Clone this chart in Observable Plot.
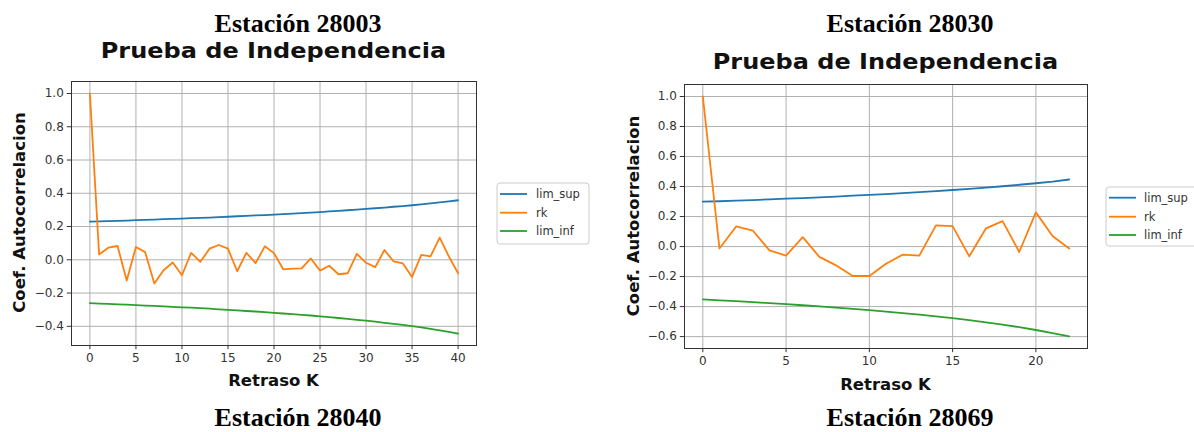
<!DOCTYPE html>
<html><head><meta charset="utf-8">
<script src="https://cdn.jsdelivr.net/npm/d3@7"></script>
<script src="https://cdn.jsdelivr.net/npm/@observablehq/plot@0.6"></script>
<style>
body{margin:0;background:#fff;}
#root{position:relative;width:1194px;height:432px;overflow:hidden;background:#fff;}
.panel{position:absolute;top:0;}
#overlay{position:absolute;left:0;top:0;}
</style></head><body><div id="root"></div>
<script>
// ---------- Data: Estación 28003 ----------
const lagsA = [0,1,2,3,4,5,6,7,8,9,10,11,12,13,14,15,16,17,18,19,20,21,22,23,24,25,26,27,28,29,30,31,32,33,34,35,36,37,38,39,40];
const rkA = [1.0,0.032,0.073,0.083,-0.125,0.077,0.046,-0.143,-0.063,-0.016,-0.093,0.042,-0.012,0.067,0.089,0.067,-0.069,0.042,-0.020,0.081,0.040,-0.057,-0.053,-0.051,0.008,-0.065,-0.036,-0.087,-0.081,0.036,-0.018,-0.044,0.059,-0.010,-0.022,-0.103,0.030,0.020,0.133,0.020,-0.081];
const supA = [0.230,0.231,0.233,0.234,0.236,0.238,0.240,0.242,0.244,0.246,0.248,0.250,0.252,0.254,0.257,0.259,0.262,0.264,0.267,0.269,0.272,0.275,0.278,0.281,0.284,0.287,0.291,0.294,0.298,0.302,0.306,0.310,0.314,0.319,0.323,0.328,0.333,0.339,0.345,0.351,0.358];
const infA = [-0.261,-0.263,-0.265,-0.268,-0.270,-0.272,-0.275,-0.277,-0.280,-0.283,-0.286,-0.288,-0.291,-0.294,-0.298,-0.301,-0.304,-0.308,-0.311,-0.315,-0.319,-0.323,-0.327,-0.331,-0.335,-0.340,-0.345,-0.350,-0.355,-0.361,-0.366,-0.372,-0.379,-0.385,-0.392,-0.399,-0.407,-0.415,-0.424,-0.433,-0.444];
const xTicksA = [0,5,10,15,20,25,30,35,40];
const yTicksA = [-0.4,-0.2,0.0,0.2,0.4,0.6,0.8,1.0];

// ---------- Data: Estación 28030 ----------
const lagsB = [0,1,2,3,4,5,6,7,8,9,10,11,12,13,14,15,16,17,18,19,20,21,22];
const rkB = [1.0,-0.013,0.134,0.107,-0.025,-0.060,0.063,-0.069,-0.125,-0.196,-0.196,-0.114,-0.054,-0.060,0.141,0.136,-0.065,0.121,0.170,-0.036,0.228,0.071,-0.013];
const supB = [0.299,0.302,0.306,0.310,0.314,0.319,0.323,0.328,0.333,0.339,0.344,0.350,0.356,0.363,0.370,0.377,0.385,0.393,0.402,0.412,0.422,0.433,0.447];
const infB = [-0.352,-0.358,-0.364,-0.370,-0.377,-0.384,-0.391,-0.399,-0.407,-0.415,-0.424,-0.433,-0.443,-0.454,-0.465,-0.477,-0.490,-0.505,-0.520,-0.537,-0.556,-0.576,-0.598];
const xTicksB = [0,5,10,15,20];
const yTicksB = [-0.6,-0.4,-0.2,0.0,0.2,0.4,0.6,0.8,1.0];

// ---------- Labels ----------
const seriesNames = ["lim_sup","rk","lim_inf"];
const seriesColors = ["#1f77b4","#ff7f0e","#2ca02c"];
const stationTop = ["Estación 28003","Estación 28030"];
const stationBottom = ["Estación 28040","Estación 28069"];
const chartTitle = "Prueba de Independencia";
const xLabel = "Retraso K";
const yLabel = "Coef. Autocorrelacion";

function rowsOf(lags, sup, rk, inf) {
  const rows = [];
  const vals = {lim_sup: sup, rk: rk, lim_inf: inf};
  for (const s of seriesNames) lags.forEach((k, i) => rows.push({k, v: vals[s][i], s}));
  return rows;
}

function makePanel(o) {
  return Plot.plot({
    width: o.width, height: 432,
    marginLeft: o.ml, marginRight: o.mr, marginTop: o.mt, marginBottom: o.mb,
    style: {fontFamily: "'DejaVu Sans', sans-serif", fontSize: "12px", color: "#333", background: "transparent", overflow: "visible"},
    x: {domain: o.xDomain, ticks: o.xTicks, tickFormat: d3.format("d"), tickSize: 4.2, tickPadding: 3.5, label: null},
    y: {domain: o.yDomain, ticks: o.yTicks, tickFormat: d3.format(".1f"), tickSize: 4.2, tickPadding: 3.5, label: null},
    color: {domain: seriesNames, range: seriesColors},
    marks: [
      Plot.ruleX(o.xTicks, {stroke: "#b0b0b0", strokeWidth: 1}),
      Plot.ruleY(o.yTicks, {stroke: "#b0b0b0", strokeWidth: 1}),
      Plot.line(o.rows, {x: "k", y: "v", z: "s", stroke: "s", strokeWidth: 1.8}),
      Plot.frame({stroke: "#333", strokeWidth: 1})
    ]
  });
}

const root = document.getElementById("root");

const pA = makePanel({width: 600, ml: 71, mr: 124, mt: 81, mb: 87,
  xDomain: [-2, 42], yDomain: [-0.5154, 1.0722], xTicks: xTicksA, yTicks: yTicksA,
  rows: rowsOf(lagsA, supA, rkA, infA)});
pA.classList.add("panel"); pA.style.left = "0px"; pA.style.position = "absolute";
root.appendChild(pA);

const pB = makePanel({width: 594, ml: 84, mr: 107, mt: 84, mb: 84,
  xDomain: [-1.1, 23.1], yDomain: [-0.6792, 1.08], xTicks: xTicksB, yTicks: yTicksB,
  rows: rowsOf(lagsB, supB, rkB, infB)});
pB.classList.add("panel"); pB.style.left = "600px"; pB.style.position = "absolute";
root.appendChild(pB);

// ---------- Overlay: titles, axis labels, legends ----------
const ns = "http://www.w3.org/2000/svg";
const ov = document.createElementNS(ns, "svg");
ov.setAttribute("id", "overlay");
ov.setAttribute("width", 1194); ov.setAttribute("height", 432);
root.appendChild(ov);

function txt(str, x, y, attrs) {
  const t = document.createElementNS(ns, "text");
  t.textContent = str;
  t.setAttribute("x", x); t.setAttribute("y", y);
  for (const k in attrs) t.setAttribute(k, attrs[k]);
  ov.appendChild(t);
  return t;
}
function el(name, attrs) {
  const e = document.createElementNS(ns, name);
  for (const k in attrs) e.setAttribute(k, attrs[k]);
  ov.appendChild(e);
  return e;
}

const serif = {"font-family": "'Liberation Serif', 'Times New Roman', serif", "font-weight": "bold", "font-size": "26px", "text-anchor": "middle", fill: "#000"};
txt(stationTop[0], 298, 32, serif);
txt(stationTop[1], 910, 32, serif);
txt(stationBottom[0], 298, 426, serif);
txt(stationBottom[1], 910, 426, serif);

const sansB = (size) => ({"font-family": "'DejaVu Sans', sans-serif", "font-weight": "bold", "font-size": size, "text-anchor": "middle", fill: "#111"});
const panels = [
  {cx: 273.5, cy: 212.5, titleY: 58, xlabY: 386, ylabX: 25, leg: {x: 497, y: 183, w: 92, h: 61, rows: [194, 212.7, 231], lx: 500, lw: 27, tx: 536}},
  {cx: 885.5, cy: 216, titleY: 69, xlabY: 390, ylabX: 639, leg: {x: 1106, y: 187, w: 92, h: 59, rows: [197.7, 216.7, 235], lx: 1109, lw: 27, tx: 1144}}
];
for (const p of panels) {
  const t = txt(chartTitle, 0, 0, sansB("24px"));
  t.setAttribute("transform", `translate(${p.cx},${p.titleY}) scale(1,0.86)`);
  txt(xLabel, p.cx, p.xlabY, sansB("16.5px"));
  const yl = txt(yLabel, 0, 0, sansB("16.5px"));
  yl.setAttribute("transform", `translate(${p.ylabX},${p.cy}) rotate(-90)`);
  const L = p.leg;
  el("rect", {x: L.x, y: L.y, width: L.w, height: L.h, rx: 3, fill: "#fff", "fill-opacity": 0.8, stroke: "#cccccc", "stroke-width": 1});
  seriesNames.forEach((s, i) => {
    el("line", {x1: L.lx, x2: L.lx + L.lw, y1: L.rows[i], y2: L.rows[i], stroke: seriesColors[i], "stroke-width": 1.8});
    txt(s, L.tx, L.rows[i] + 4.2, {"font-family": "'DejaVu Sans', sans-serif", "font-size": "11.5px", fill: "#333"});
  });
}
</script>
</body></html>
